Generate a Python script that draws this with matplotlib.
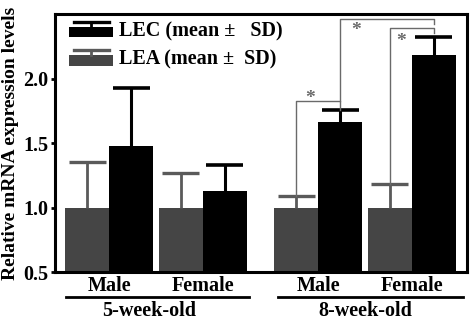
import numpy as np
import matplotlib.pyplot as plt
from matplotlib.patches import Rectangle
from matplotlib.lines import Line2D
from matplotlib.legend_handler import HandlerBase

plt.rcParams['font.family'] = ['Liberation Serif', 'DejaVu Serif']
plt.rcParams['font.weight'] = 'bold'

# data
sex = ['Male', 'Female', 'Male', 'Female']
ages = ['5-week-old', '8-week-old']
lea_mean = [1.0, 1.0, 1.0, 1.0]
lea_sd = [0.35, 0.27, 0.09, 0.18]
lec_mean = [1.48, 1.13, 1.66, 2.18]
lec_sd = [0.45, 0.20, 0.10, 0.14]

LEA_C = '#454545'
LEA_ERR = '#5a5a5a'
LEC_C = 'black'
GRAY = '#6a6a6a'


class BarErrHandler(HandlerBase):
    def __init__(self, color, ecolor):
        super().__init__()
        self.color = color
        self.ecolor = ecolor

    def create_artists(self, legend, orig_handle, xdescent, ydescent,
                       width, height, fontsize, trans):
        x0, y0 = -xdescent, -ydescent
        rh = height * 0.68
        rect = Rectangle((x0, y0), width, rh, facecolor=self.color,
                         edgecolor='none', transform=trans)
        xc = x0 + width / 2
        stem = Line2D([xc, xc], [y0 + rh, y0 + height], color=self.ecolor,
                      lw=2, transform=trans)
        cap = Line2D([x0 + width * 0.1, x0 + width * 0.9],
                     [y0 + height, y0 + height], color=self.ecolor,
                     lw=2.4, transform=trans)
        return [rect, stem, cap]


def up_err(ax, x, mean, sd, color, lw, capw=0.42):
    top = np.array(mean) + np.array(sd)
    ax.vlines(x, mean, top, color=color, lw=lw)
    ax.hlines(top, x - capw, x + capw, color=color, lw=lw + 0.4)


fig = plt.figure(figsize=(4.73, 3.21), dpi=100)
ax = fig.add_axes([0.1163, 0.1526, 0.8707, 0.8034])

pos = np.array([1.23, 3.36, 5.98, 8.11])
w = 1.0

ax.bar(pos - w / 2, lea_mean, w, color=LEA_C, linewidth=0)
up_err(ax, pos - w / 2, lea_mean, lea_sd, LEA_ERR, 2.0)
ax.bar(pos + w / 2, lec_mean, w, color=LEC_C, linewidth=0)
up_err(ax, pos + w / 2, lec_mean, lec_sd, LEC_C, 2.2)

ax.set_xlim(0, 9.36)
ax.set_ylim(0.5, 2.5)
ax.set_yticks([0.5, 1.0, 1.5, 2.0])
ax.set_yticklabels(['0.5', '1.0', '1.5', '2.0'], fontsize=14.5, fontweight='bold')
ax.tick_params(axis='y', direction='out', length=3, width=2, pad=2)
ax.set_xticks(pos)
ax.set_xticklabels(sex, fontsize=14.5, fontweight='bold')
ax.tick_params(axis='x', length=0, pad=3)
for s in ax.spines.values():
    s.set_linewidth(2.2)
ax.set_ylabel('Relative mRNA expression levels', fontsize=14,
              fontweight='bold', labelpad=3)

# significance brackets
lw_b = 1.0
m, f = pos[2], pos[3]
ax.plot([m - 0.5, m - 0.5, m + 0.5, m + 0.5],
        [lea_mean[2] + lea_sd[2], 1.83, 1.83, lec_mean[2] + lec_sd[2]],
        color=GRAY, lw=lw_b)
ax.text(m - 0.18, 1.845, '*', color=GRAY, fontsize=14, ha='center', va='center')
ax.plot([f - 0.5, f - 0.5, f + 0.5, f + 0.5],
        [lea_mean[3] + lea_sd[3], 2.39, 2.39, 2.355],
        color=GRAY, lw=lw_b)
ax.text(f - 0.25, 2.29, '*', color=GRAY, fontsize=14, ha='center', va='center')
ax.plot([m + 0.5, m + 0.5, f + 0.5, f + 0.5],
        [1.83, 2.46, 2.46, 2.42], color=GRAY, lw=lw_b)
ax.text(m + 0.86, 2.37, '*', color=GRAY, fontsize=14, ha='center', va='center')

# age group lines and labels
tr = ax.get_xaxis_transform()
spans = [(pos[0] - 0.98, pos[1] + 1.05), (pos[2] - 0.92, pos[3] + 1.17)]
centers = [(pos[0] + pos[1]) / 2 - 0.15, (pos[2] + pos[3]) / 2]
for (x0, x1), xc, lab in zip(spans, centers, ages):
    ax.plot([x0, x1], [-0.097, -0.097], color='black', lw=2,
            transform=tr, clip_on=False)
    ax.text(xc, -0.15, lab, transform=tr, ha='center', va='center',
            fontsize=14.5, fontweight='bold')

h_lec = Rectangle((0, 0), 1, 1)
h_lea = Rectangle((0, 0), 1, 1)
ax.legend([h_lec, h_lea], ['LEC (mean \u00b1   SD)', 'LEA (mean \u00b1  SD)'],
          handler_map={h_lec: BarErrHandler(LEC_C, LEC_C),
                       h_lea: BarErrHandler(LEA_C, LEA_ERR)},
          loc='upper left', bbox_to_anchor=(0.0, 1.025), frameon=False,
          prop={'size': 14.5, 'weight': 'bold'}, handlelength=2.2,
          handleheight=0.8, handletextpad=0.3, labelspacing=0.4,
          borderaxespad=0.3)

fig.savefig('out.png', dpi=100)
